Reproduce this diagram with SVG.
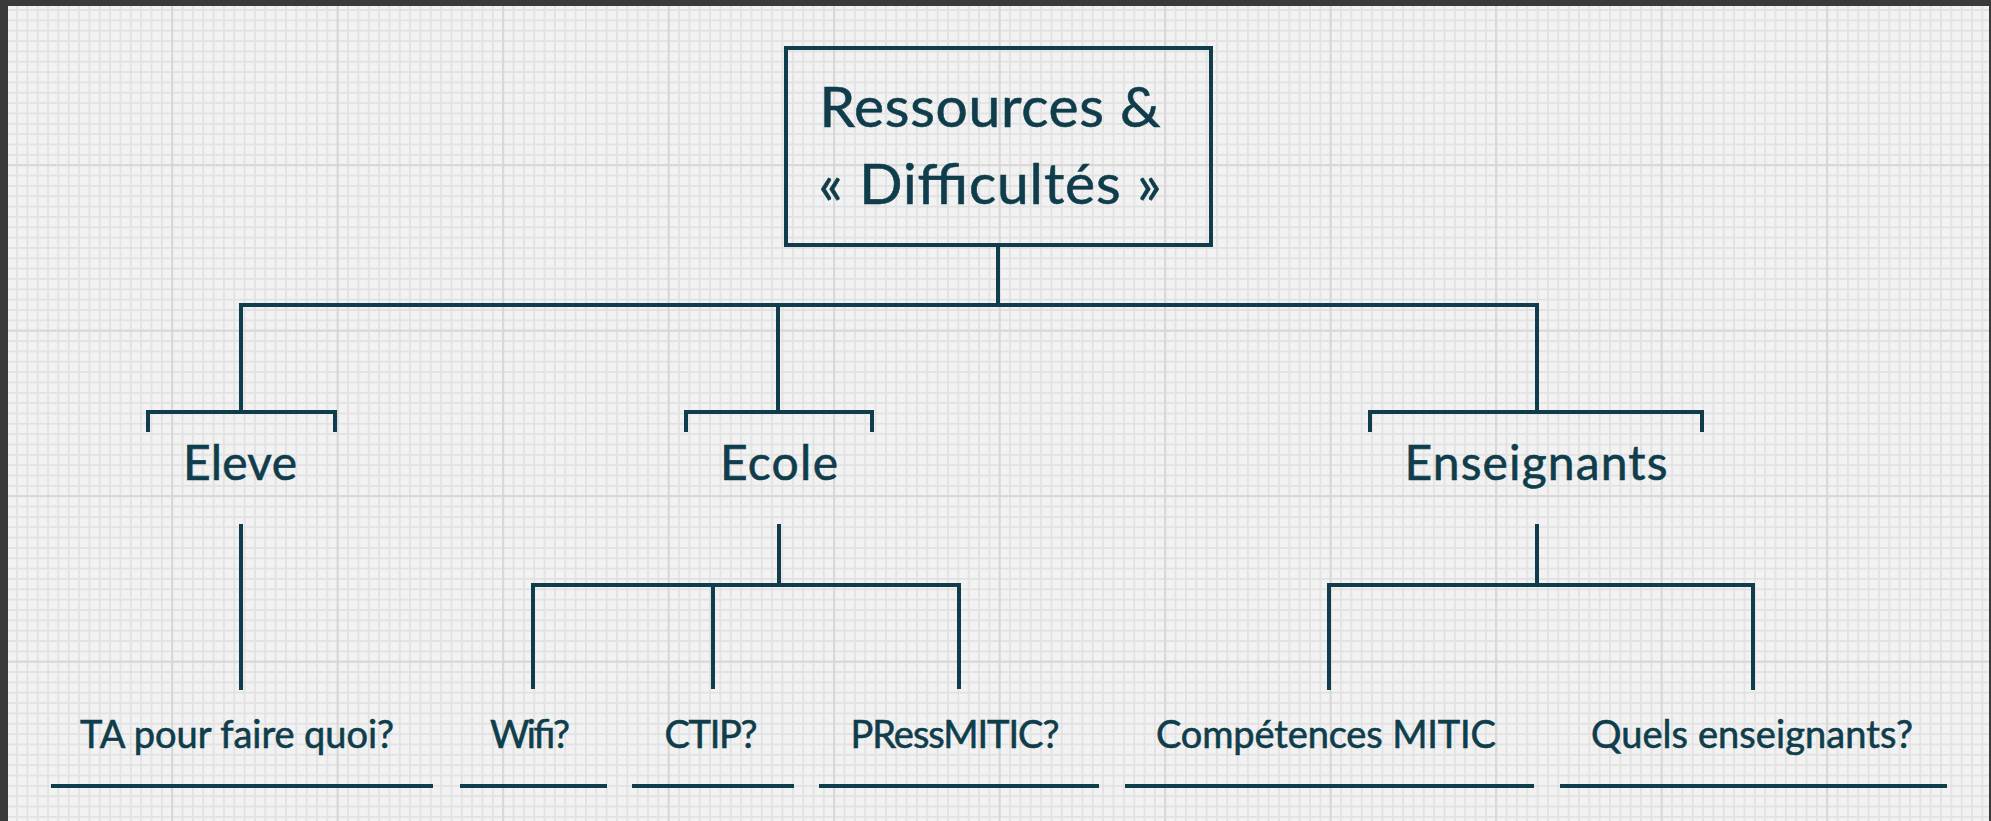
<svg xmlns="http://www.w3.org/2000/svg" width="1991" height="821" viewBox="0 0 1991 821">
<style>
.ln{stroke:#0f3d4b;stroke-width:4;fill:none;stroke-linecap:butt;stroke-linejoin:miter}
.box{stroke:#0f3d4b;stroke-width:4;fill:none}
.t{font-family:Lato,"Liberation Sans",Arial,sans-serif;fill:#0f3d4b;text-anchor:middle;stroke:#0f3d4b;stroke-width:0.6}
.root{font-size:57px}
.mid{font-size:48px}
.leaf{font-size:38px}
</style>
<defs>
<pattern id="minor" patternUnits="userSpaceOnUse" x="5.75" y="9.1" width="10.344" height="10.344">
<rect width="10.344" height="10.344" fill="#f2f2f2"/>
<rect width="1.8" height="10.344" fill="#e2e2e2"/>
<rect width="10.344" height="1.8" fill="#e2e2e2"/>
</pattern>
<pattern id="major" patternUnits="userSpaceOnUse" x="171.2" y="164.2" width="165.5" height="165.5">
<rect width="1.8" height="165.5" fill="#d6d6d6"/>
<rect width="165.5" height="1.8" fill="#d6d6d6"/>
</pattern>
</defs>
<rect x="0" y="0" width="1991" height="821" fill="#3a3a3a"/>
<rect x="8" y="6" width="1981" height="815" fill="url(#minor)"/>
<rect x="8" y="6" width="1981" height="815" fill="url(#major)"/>

<g id="connectors" class="ln">
<path d="M998 245 V305"/>
<path d="M241 412 V305 H1537 V412"/>
<path d="M778 305 V412"/>
<path d="M241 524 V690"/>
<path d="M779 524 V585"/>
<path d="M533 689 V585 H959 V689"/>
<path d="M713 585 V689"/>
<path d="M1537 524 V585"/>
<path d="M1329 690 V585 H1753 V690"/>
</g>

<g id="node-root">
<rect class="box" x="786" y="48" width="425" height="197"/>
<text class="t root" x="990" y="127" textLength="341">Ressources &amp;</text>
<text class="t root" x="990" y="204" textLength="343">« Difficultés »</text>
</g>

<g id="node-eleve">
<path class="ln" d="M148 432 V412 H335 V432"/>
<text class="t mid" x="240" y="480" textLength="114">Eleve</text>
</g>

<g id="node-ecole">
<path class="ln" d="M686 432 V412 H872 V432"/>
<text class="t mid" x="779" y="480" textLength="118">Ecole</text>
</g>

<g id="node-enseignants">
<path class="ln" d="M1370 432 V412 H1702 V432"/>
<text class="t mid" x="1536" y="480" textLength="263">Enseignants</text>
</g>

<g id="node-ta">
<text class="t leaf" x="237" y="748" textLength="314">TA pour faire quoi?</text>
<path class="ln" d="M51 786 H433"/>
</g>

<g id="node-wifi">
<text class="t leaf" x="530" y="748" textLength="80">Wifi?</text>
<path class="ln" d="M460 786 H607"/>
</g>

<g id="node-ctip">
<text class="t leaf" x="711" y="748" textLength="93">CTIP?</text>
<path class="ln" d="M632 786 H794"/>
</g>

<g id="node-pressmitic">
<text class="t leaf" x="955" y="748" textLength="209">PRessMITIC?</text>
<path class="ln" d="M819 786 H1099"/>
</g>

<g id="node-competences">
<text class="t leaf" x="1326" y="748" textLength="340">Compétences MITIC</text>
<path class="ln" d="M1125 786 H1534"/>
</g>

<g id="node-quels">
<text class="t leaf" x="1752" y="748" textLength="322">Quels enseignants?</text>
<path class="ln" d="M1560 786 H1947"/>
</g>
</svg>
